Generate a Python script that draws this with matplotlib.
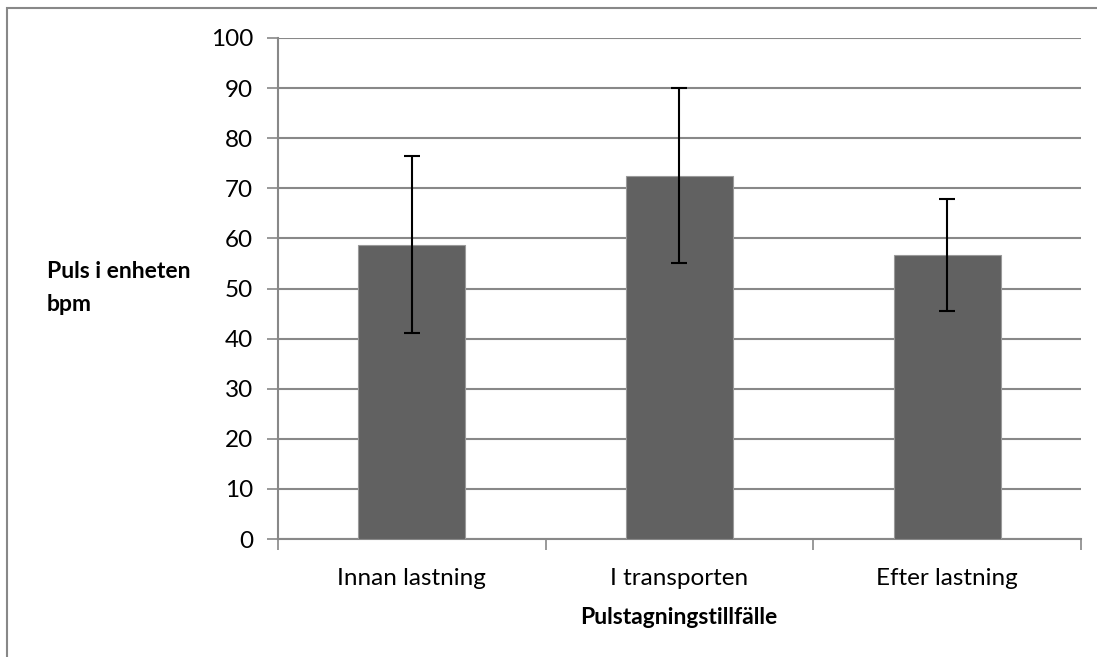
import numpy as np
import matplotlib.pyplot as plt
from matplotlib.patches import Rectangle

# data
categories = ['Innan lastning', 'I transporten', 'Efter lastning']
means = [58.7, 72.5, 56.7]
err_low = [41.1, 55.1, 45.5]
err_high = [76.4, 90.0, 67.9]

plt.rcParams['font.family'] = ['Lato', 'DejaVu Sans']

fig = plt.figure(figsize=(10.97, 6.57), dpi=100)
ax = fig.add_axes([278 / 1097, 1 - 539 / 657, 803 / 1097, 501 / 657])

x = np.arange(len(categories))
yerr = [np.array(means) - np.array(err_low), np.array(err_high) - np.array(means)]
ax.bar(x, means, width=0.4, color='#616161', edgecolor='#9a9a9a', linewidth=0.8, zorder=3)
ax.errorbar(x, means, yerr=yerr, fmt='none', ecolor='black', elinewidth=1.5,
            capsize=5.5, capthick=1.5, zorder=4)

ax.set_xlim(-0.5, 2.5)
ax.set_ylim(0, 100)
ax.set_yticks(np.arange(0, 101, 10))
ax.yaxis.grid(True, color='#888888', linewidth=1.5, zorder=0)
ax.set_axisbelow(True)

ax.set_xticks(x)
ax.set_xticklabels(categories, fontsize=17.5)
ax.set_xticks([-0.5, 0.5, 1.5, 2.5], minor=True)
ax.tick_params(axis='x', which='major', length=0, pad=21)
ax.tick_params(axis='x', which='minor', length=8, width=1.2, color='#888888')
ax.tick_params(axis='y', length=8, width=1.2, color='#888888', labelsize=17.5, pad=10)

for s in ['top', 'right']:
    ax.spines[s].set_visible(False)
for s in ['left', 'bottom']:
    ax.spines[s].set_color('#888888')
    ax.spines[s].set_linewidth(1.5)

fig.text(47 / 1097, 1 - 288 / 657, 'Puls i enheten\nbpm', fontsize=16.5, fontweight='bold',
         ha='left', va='center', linespacing=1.65)
fig.text(679 / 1097, 1 - 617 / 657, 'Pulstagningstillfälle', fontsize=16.5, fontweight='bold',
         ha='center', va='center')

# outer chart frame
fig.patches.append(Rectangle((7 / 1097, -0.1), 1.2, 1 - 8 / 657 + 0.1, transform=fig.transFigure,
                             fill=False, edgecolor='#888888', linewidth=1.5))

fig.savefig('out.png', dpi=100)
